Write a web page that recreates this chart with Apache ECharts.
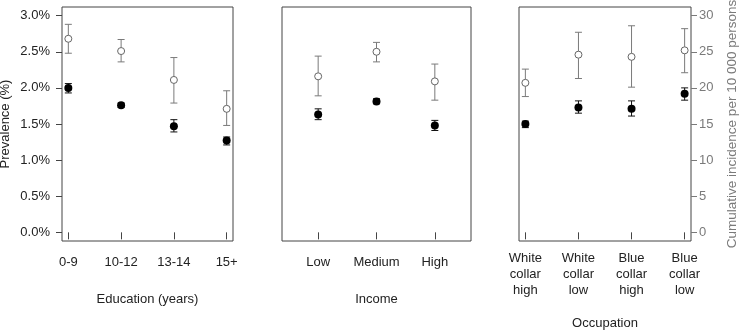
<!DOCTYPE html>
<html>
<head>
<meta charset="utf-8">
<script src="https://cdn.jsdelivr.net/npm/echarts@6/dist/echarts.min.js"></script>
<style>
  html, body { margin: 0; padding: 0; background: #fff; }
  #chart { width: 740px; height: 330px; }
</style>
</head>
<body>
<div id="chart"></div>
<script>
// prevalence (%) on the left axis, cumulative incidence per 10 000 on the right axis
const eduCats = ['0-9', '10-12', '13-14', '15+'];
const eduPrev = [2.00, 1.76, 1.47, 1.27];
const eduPrevLo = [1.93, 1.73, 1.39, 1.21];
const eduPrevHi = [2.06, 1.79, 1.56, 1.32];
const eduInc = [26.8, 25.1, 21.1, 17.1];
const eduIncLo = [24.8, 23.6, 17.9, 14.8];
const eduIncHi = [28.8, 26.7, 24.2, 19.6];

const incomeCats = ['Low', 'Medium', 'High'];
const incomePrev = [1.63, 1.81, 1.48];
const incomePrevLo = [1.56, 1.78, 1.41];
const incomePrevHi = [1.71, 1.85, 1.55];
const incomeInc = [21.6, 25.0, 20.9];
const incomeIncLo = [18.9, 23.6, 18.3];
const incomeIncHi = [24.4, 26.3, 23.3];

const occCats = ['White\ncollar\nhigh', 'White\ncollar\nlow', 'Blue\ncollar\nhigh', 'Blue\ncollar\nlow'];
const occPrev = [1.50, 1.73, 1.71, 1.92];
const occPrevLo = [1.45, 1.65, 1.61, 1.83];
const occPrevHi = [1.54, 1.82, 1.82, 2.00];
const occInc = [20.7, 24.6, 24.3, 25.2];
const occIncLo = [18.8, 21.3, 20.1, 22.1];
const occIncHi = [22.6, 27.7, 28.6, 28.2];

const prevTicks = [0, 0.5, 1, 1.5, 2, 2.5, 3];
const incTicks = [0, 5, 10, 15, 20, 25, 30];

const panels = [
  { title: 'Education (years)', cats: eduCats, prev: eduPrev, prevLo: eduPrevLo, prevHi: eduPrevHi,
    inc: eduInc, incLo: eduIncLo, incHi: eduIncHi },
  { title: 'Income', cats: incomeCats, prev: incomePrev, prevLo: incomePrevLo, prevHi: incomePrevHi,
    inc: incomeInc, incLo: incomeIncLo, incHi: incomeIncHi },
  { title: 'Occupation', cats: occCats, prev: occPrev, prevLo: occPrevLo, prevHi: occPrevHi,
    inc: occInc, incLo: occIncLo, incHi: occIncHi }
];

const FONT = '"Liberation Sans", Arial, sans-serif';
const GRAY = '#7a7a7a';

const grids = [
  { left: 62, top: 7, width: 171, height: 234 },
  { left: 282, top: 7, width: 189, height: 234 },
  { left: 519, top: 7, width: 172, height: 234 }
];
// R style 4% padding round the x range
const xRanges = [[0.88, 4.12], [0.38, 3.62], [0.88, 4.12]];
const titleGaps = [52, 52, 76];
const labelMargins = [13, 13, 9];

function errorBars(color) {
  return function (params, api) {
    const x = api.value(0);
    const lo = api.coord([x, api.value(1)]);
    const hi = api.coord([x, api.value(2)]);
    const w = 3.5;
    const st = { stroke: color, lineWidth: 1 };
    return {
      type: 'group',
      children: [
        { type: 'line', shape: { x1: lo[0], y1: lo[1], x2: hi[0], y2: hi[1] }, style: st },
        { type: 'line', shape: { x1: lo[0] - w, y1: lo[1], x2: lo[0] + w, y2: lo[1] }, style: st },
        { type: 'line', shape: { x1: hi[0] - w, y1: hi[1], x2: hi[0] + w, y2: hi[1] }, style: st }
      ]
    };
  };
}

const xAxes = [], yAxes = [], series = [];
panels.forEach(function (p, i) {
  const ticks = p.cats.map(function (c, k) { return k + 1; });
  xAxes.push({
    type: 'value', gridIndex: i, min: xRanges[i][0], max: xRanges[i][1],
    name: p.title, nameLocation: 'middle', nameGap: titleGaps[i],
    nameTextStyle: { fontFamily: FONT, fontSize: 13, color: '#222' },
    axisLine: { show: false },
    splitLine: { show: false },
    axisTick: { show: true, inside: false, length: 7, customValues: ticks, lineStyle: { color: '#444' } },
    axisLabel: {
      customValues: ticks, margin: labelMargins[i], fontFamily: FONT, fontSize: 13, color: '#222',
      lineHeight: 16, align: 'center',
      formatter: function (v) { return p.cats[Math.round(v) - 1]; }
    }
  });
  // prevalence axis
  yAxes.push({
    type: 'value', gridIndex: i, position: 'left', min: -0.12, max: 3.12,
    show: i === 0,
    name: 'Prevalence (%)', nameLocation: 'middle', nameGap: 50,
    nameTextStyle: { fontFamily: FONT, fontSize: 13, color: '#222' },
    axisLine: { show: false },
    splitLine: { show: false },
    axisTick: { show: true, length: 6, customValues: prevTicks, lineStyle: { color: '#444' } },
    axisLabel: {
      customValues: prevTicks, margin: 12, fontFamily: FONT, fontSize: 13, color: '#222',
      formatter: function (v) { return v.toFixed(1) + '%'; }
    }
  });
  // incidence axis
  yAxes.push({
    type: 'value', gridIndex: i, position: 'right', min: -1.2, max: 31.2,
    show: i === 2,
    name: 'Cumulative incidence per 10 000 persons', nameLocation: 'middle', nameGap: 34,
    nameRotate: 90,
    nameTextStyle: { fontFamily: FONT, fontSize: 13.5, color: GRAY },
    axisLine: { show: false },
    splitLine: { show: false },
    axisTick: { show: true, length: 6, customValues: incTicks, lineStyle: { color: GRAY } },
    axisLabel: { customValues: incTicks, margin: 8, fontFamily: FONT, fontSize: 13, color: GRAY }
  });

  const xs = ticks;
  series.push({
    type: 'custom', xAxisIndex: i, yAxisIndex: 2 * i + 1, z: 2,
    renderItem: errorBars(GRAY), encode: { x: 0, y: [1, 2] },
    data: xs.map(function (x, k) { return [x, p.incLo[k], p.incHi[k]]; })
  });
  series.push({
    type: 'scatter', xAxisIndex: i, yAxisIndex: 2 * i + 1, z: 3,
    symbol: 'circle', symbolSize: 7,
    itemStyle: { color: '#fff', borderColor: '#666', borderWidth: 1, opacity: 1 },
    data: xs.map(function (x, k) { return [x, p.inc[k]]; })
  });
  series.push({
    type: 'custom', xAxisIndex: i, yAxisIndex: 2 * i, z: 2,
    renderItem: errorBars('#111'), encode: { x: 0, y: [1, 2] },
    data: xs.map(function (x, k) { return [x, p.prevLo[k], p.prevHi[k]]; })
  });
  series.push({
    type: 'scatter', xAxisIndex: i, yAxisIndex: 2 * i, z: 3,
    symbol: 'circle', symbolSize: 8,
    itemStyle: { color: '#000', opacity: 1 },
    data: xs.map(function (x, k) { return [x, p.prev[k]]; })
  });
});

const chart = echarts.init(document.getElementById('chart'));
chart.setOption({
  animation: false,
  backgroundColor: '#fff',
  grid: grids.map(function (g) {
    return Object.assign({
      show: true, borderColor: '#444', borderWidth: 1, backgroundColor: 'transparent',
      outerBoundsMode: 'none'
    }, g);
  }),
  xAxis: xAxes,
  yAxis: yAxes,
  series: series
});
</script>
</body>
</html>
